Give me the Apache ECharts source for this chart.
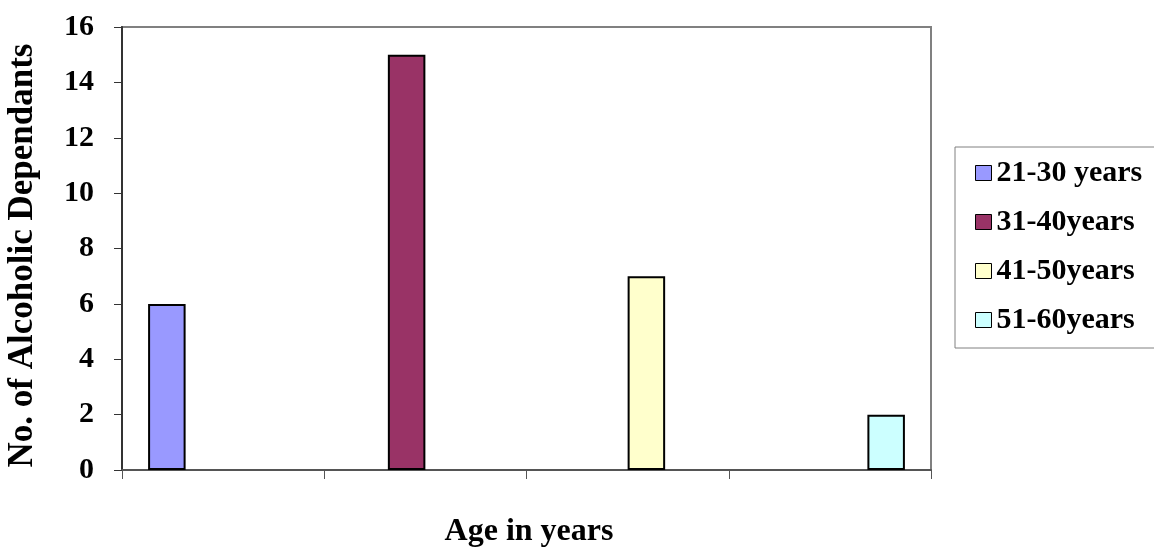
<!DOCTYPE html>
<html>
<head>
<meta charset="utf-8">
<script src="https://cdn.jsdelivr.net/npm/echarts@6/dist/echarts.min.js"></script>
<style>html,body{margin:0;padding:0;background:#fff;}#c{width:1154px;height:550px;}</style>
</head>
<body>
<div id="c"></div>
<script>
var categories = ['21-30', '31-40', '41-50', '51-60'];
var seriesNames = ['21-30 years', '31-40years', '41-50years', '51-60years'];
var values = [6, 15, 7, 2];
var colors = ['#9999FF', '#993366', '#FFFFCC', '#CCFFFF'];
var yTicks = { min: 0, max: 16, interval: 2 };

var FONT = "'Liberation Serif','Times New Roman',serif";

var series = seriesNames.map(function (name, i) {
  var data = categories.map(function (c, j) { return j === i ? values[i] : '-'; });
  return {
    name: name,
    type: 'bar',
    data: data,
    barGap: '0%',
    barCategoryGap: '25.8%',
    itemStyle: { color: colors[i], borderColor: '#000', borderWidth: 2 },
    emphasis: { disabled: true }
  };
});

var chart = echarts.init(document.getElementById('c'));
chart.setOption({
  backgroundColor: '#fff',
  animation: false,
  grid: {
    left: 122, right: 223, top: 27, bottom: 80,
    containLabel: false,
    outerBoundsMode: 'none',
    show: true, borderColor: '#808080', borderWidth: 2, backgroundColor: '#fff'
  },
  legend: {
    orient: 'vertical',
    left: 955, top: 147,
    padding: [11, 40, 13, 20],
    itemGap: 19,
    itemWidth: 16, itemHeight: 15,
    icon: 'rect',
    borderColor: '#808080', borderWidth: 1,
    backgroundColor: '#fff',
    itemStyle: { borderWidth: 1, borderColor: '#000' },
    textStyle: { fontFamily: FONT, fontWeight: 'bold', fontSize: 30, color: '#000' },
    data: seriesNames
  },
  xAxis: {
    type: 'category',
    data: categories,
    name: 'Age in years',
    nameLocation: 'middle',
    nameGap: 46,
    nameTextStyle: { fontFamily: FONT, fontWeight: 'bold', fontSize: 32, color: '#000', padding: [0, 0, 0, 5] },
    axisLine: { lineStyle: { color: '#555', width: 2 } },
    axisTick: { show: true, length: 9, lineStyle: { color: '#555', width: 1 } },
    axisLabel: { show: false }
  },
  yAxis: {
    type: 'value',
    min: yTicks.min, max: yTicks.max, interval: yTicks.interval,
    name: 'No. of Alcoholic Dependants',
    nameLocation: 'middle',
    nameGap: 82,
    nameTextStyle: { fontFamily: FONT, fontWeight: 'bold', fontSize: 35, color: '#000', padding: [0, 14, 0, 0] },
    axisLine: { show: true, lineStyle: { color: '#333', width: 2 } },
    axisTick: { show: true, length: 8, lineStyle: { color: '#333', width: 1 } },
    axisLabel: { fontFamily: FONT, fontWeight: 'bold', fontSize: 30, color: '#000', margin: 28 },
    splitLine: { show: false }
  },
  series: series
});
</script>
</body>
</html>
